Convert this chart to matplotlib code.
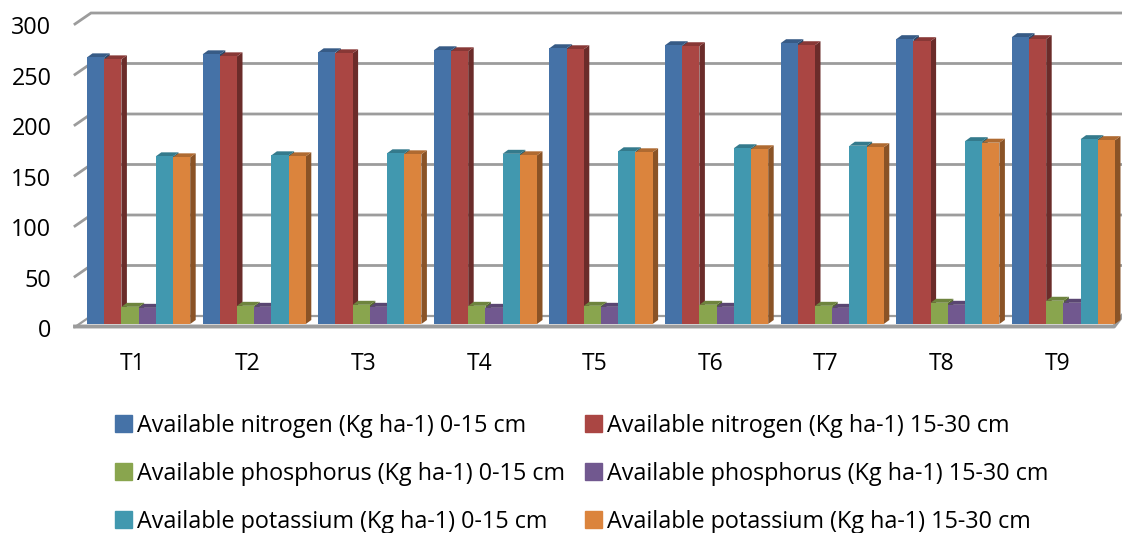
import matplotlib
matplotlib.use('Agg')
import matplotlib.pyplot as plt
import matplotlib.colors as mcolors
from matplotlib.patches import Patch
from matplotlib.transforms import ScaledTranslation
import numpy as np

plt.rcParams['font.family'] = ['Open Sans', 'DejaVu Sans']

treatments = ['T1', 'T2', 'T3', 'T4', 'T5', 'T6', 'T7', 'T8', 'T9']
nitrogen_0_15 = [264, 267, 269, 271, 273, 276, 278, 282, 284]
nitrogen_15_30 = [262, 265, 268, 270, 272, 275, 276, 280, 282]
phosphorus_0_15 = [17, 18, 19, 18, 18, 19, 18, 21, 23]
phosphorus_15_30 = [16, 17, 17, 16, 17, 17, 16, 19, 21]
potassium_0_15 = [166, 167, 169, 168.5, 171, 174, 176.5, 181, 183]
potassium_15_30 = [165, 166, 168, 167, 170, 173, 175, 179.5, 182]
y_ticks = [0, 50, 100, 150, 200, 250, 300]

series = [
    ('Available nitrogen (Kg ha-1) 0-15 cm', nitrogen_0_15, '#4572A7'),
    ('Available nitrogen (Kg ha-1) 15-30 cm', nitrogen_15_30, '#AA4643'),
    ('Available phosphorus (Kg ha-1) 0-15 cm', phosphorus_0_15, '#89A54E'),
    ('Available phosphorus (Kg ha-1) 15-30 cm', phosphorus_15_30, '#71588F'),
    ('Available potassium (Kg ha-1) 0-15 cm', potassium_0_15, '#4198AF'),
    ('Available potassium (Kg ha-1) 15-30 cm', potassium_15_30, '#DB843D'),
]

W, H = 1122, 533
px_cat = 115.6     # pixels per category
px_val = 1.01      # pixels per value unit
x0_px = 138.6      # pixel of first group centre
y0_px = 324        # pixel of value 0 at the bar base


def xu(px):
    return px / px_cat


def yu(px):
    return px / px_val


fig = plt.figure(figsize=(W / 100, H / 100), dpi=100)
ax = fig.add_axes([75 / W, 1 - 327 / H, (W - 75) / W, (327 - 13) / H])
ax.set_xlim((75 - x0_px) / px_cat, (W - x0_px) / px_cat)
ax.set_ylim(-yu(327 - y0_px), yu(y0_px - 13))
for s in ax.spines.values():
    s.set_visible(False)

# back wall and left wall gridlines
grid_col = '#9c9c9c'
back_dy = yu(8)
left = ax.get_xlim()[0]
right = ax.get_xlim()[1]
back_left = left + xu(16)
for v in y_ticks:
    if v == 0:
        continue
    ax.plot([left, back_left, right], [v - yu(3), v + back_dy, v + back_dy],
            color=grid_col, lw=2.0, solid_joinstyle='miter', zorder=1, clip_on=False)

# floor
floor_right = right - xu(8)
ax.fill([left, back_left, right, floor_right],
        [-yu(3), back_dy, back_dy, -yu(3)], color='#ffffff', ec='none', zorder=1.5)
ax.plot([left, back_left, right], [-yu(3), back_dy, back_dy], color=grid_col, lw=1.6,
        zorder=1.6, clip_on=False)
ax.plot([left, floor_right, right], [-yu(2.5), -yu(2.5), back_dy], color=grid_col, lw=2.8,
        zorder=1.6, clip_on=False)

# bars, left to right so each front hides the side of the one before it
bar_w = 17.2 / px_cat
dx = xu(5.5)
dy = yu(4)
x = np.arange(len(treatments))
z = 2.0
for gi in x:
    for si, (label, vals, col) in enumerate(series):
        b_left = gi + (si - 3) * bar_w
        v = vals[gi]
        rgb = np.array(mcolors.to_rgb(col))
        ax.fill([b_left + bar_w, b_left + bar_w + dx, b_left + bar_w + dx, b_left + bar_w],
                [0, dy, v + dy, v], color=rgb * 0.63, ec='none', zorder=z)
        ax.fill([b_left, b_left + dx, b_left + bar_w + dx, b_left + bar_w],
                [v, v + dy, v + dy, v], color=rgb * 0.8, ec='none', zorder=z)
        ax.bar(b_left, v, width=bar_w, align='edge', color=col, ec='none', zorder=z + 0.1)
        z += 0.2

ax.set_yticks(y_ticks)
ax.set_xticks(x)
ax.set_xticklabels(treatments)
ax.tick_params(axis='both', length=0)
ax.tick_params(axis='y', labelsize=16.8, pad=17, labelcolor='black')
ax.tick_params(axis='x', labelsize=16.5, pad=18, labelcolor='black')
for lab in ax.get_yticklabels():
    lab.set_transform(lab.get_transform() + ScaledTranslation(0, -3 / 72, fig.dpi_scale_trans))
for lab in ax.get_xticklabels():
    lab.set_transform(lab.get_transform() + ScaledTranslation(-4.5 / 72, 0, fig.dpi_scale_trans))

handles = [Patch(color=series[i][2], label=series[i][0]) for i in [0, 2, 4, 1, 3, 5]]
fig.legend(handles=handles, loc='upper left', bbox_to_anchor=(115 / W, 1 - 414 / H),
           ncol=2, frameon=False, fontsize=16.8, handlelength=0.73, handleheight=0.73,
           handletextpad=0.2, labelspacing=1.02, columnspacing=0.88, borderaxespad=0, borderpad=0)

fig.savefig('out.png', dpi=100)
